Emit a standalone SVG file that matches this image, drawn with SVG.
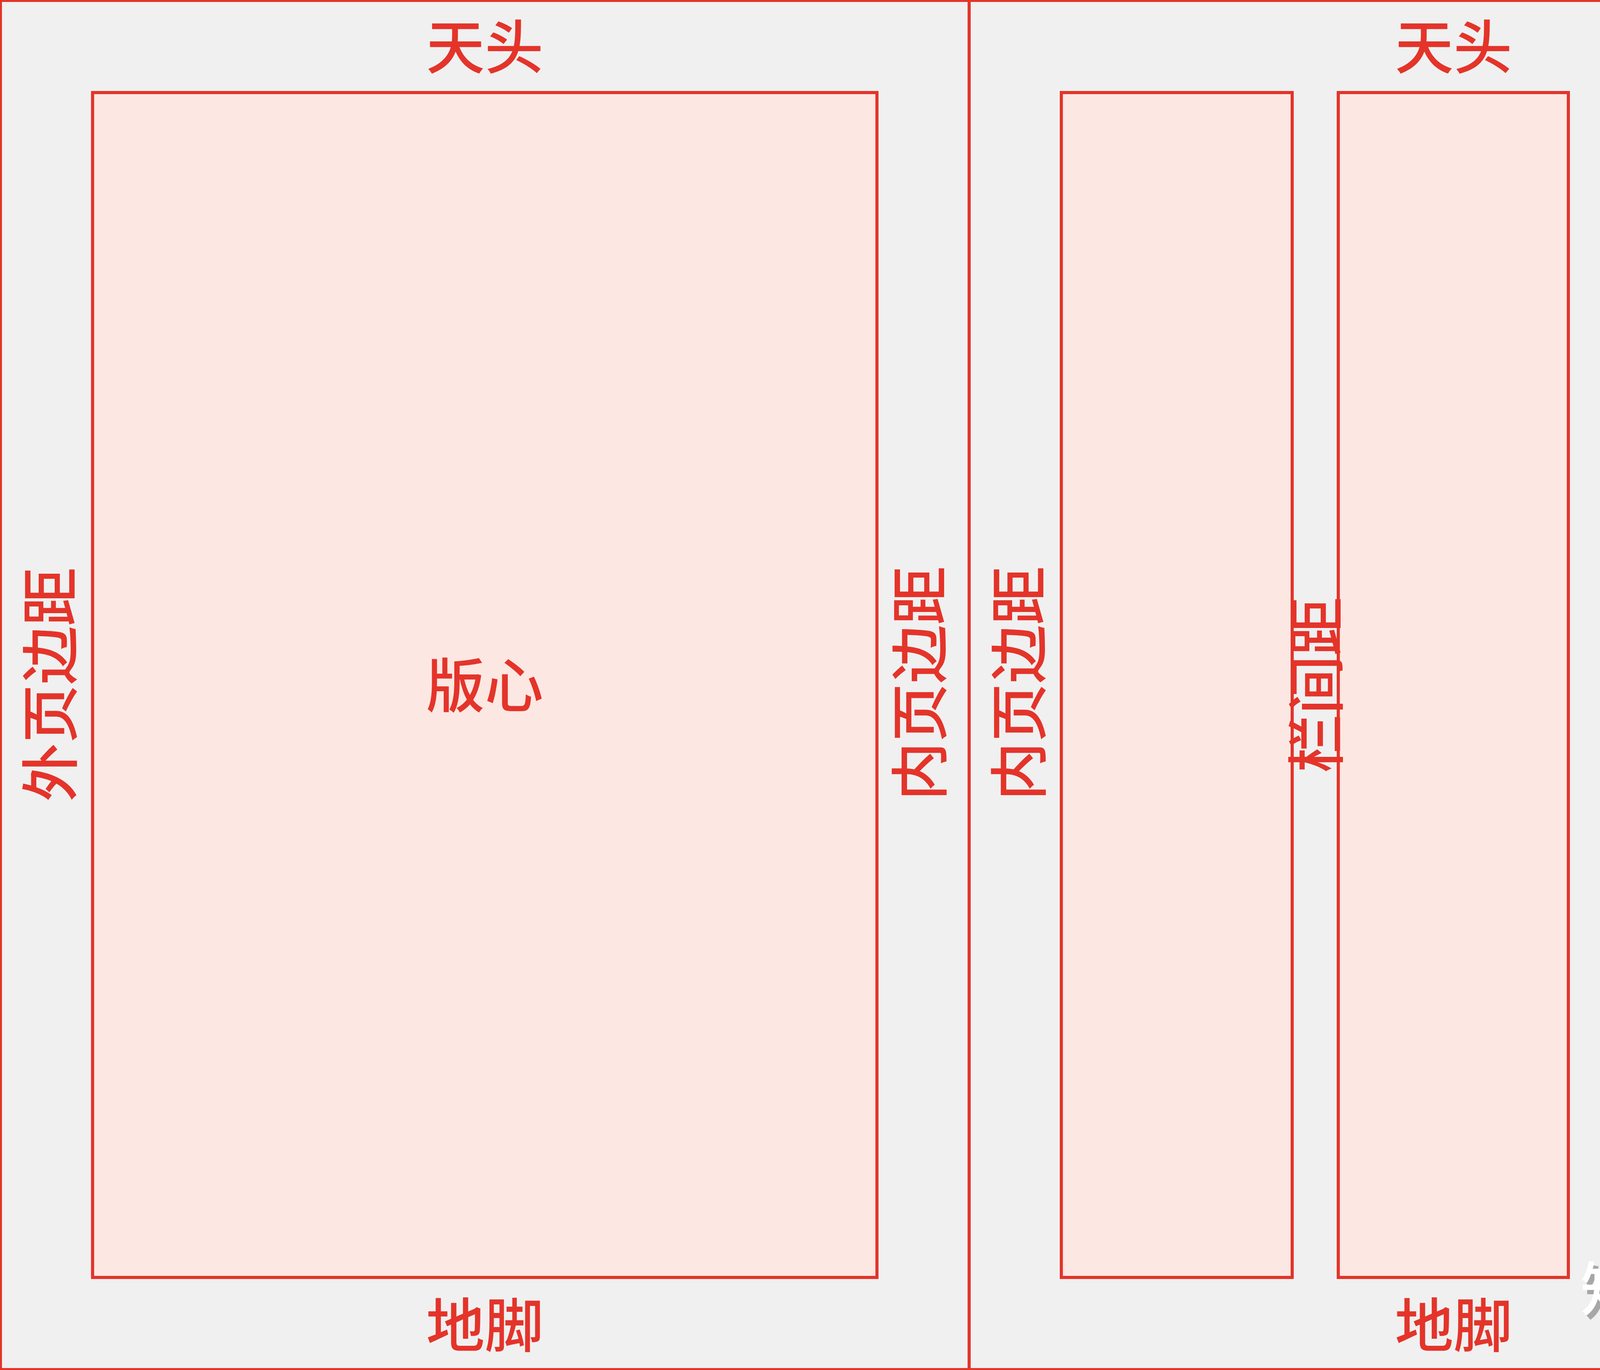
<svg xmlns="http://www.w3.org/2000/svg" width="4962" height="3508" viewBox="0 0 4962 3508">
<style>
.frame{fill:#F0F0F0;stroke:#E4342A;stroke-width:10}
.line{stroke:#E4342A;stroke-width:8;fill:none}
.box{fill:#FDE7E2;stroke:#E4342A;stroke-width:8}
.lbl{font-family:"Noto Sans CJK SC","Noto Sans CJK JP",sans-serif;font-size:150px;font-weight:500;fill:#E4342A;text-anchor:middle}
.wm{font-family:"Noto Sans CJK SC","Noto Sans CJK JP",sans-serif;font-size:150px;font-weight:500;text-anchor:start}
</style>
<g id="page">
<rect class="frame" x="0" y="0" width="4962" height="3508"/>
<line class="line" x1="2481" y1="0" x2="2481" y2="3508"/>
</g>
<g id="left-type-area">
<rect class="box" x="237" y="237" width="2008" height="3034"/>
<text class="lbl" x="1241" y="1811">版心</text>
</g>
<g id="right-col-1"><rect class="box" x="2717" y="237" width="591" height="3034"/></g>
<g id="right-col-2"><rect class="box" x="3426" y="237" width="589" height="3034"/></g>
<g id="right-col-3"><rect class="box" x="4134" y="237" width="591" height="3034"/></g>
<g id="labels">
<text class="lbl" x="1241" y="176">天头</text>
<text class="lbl" x="3721" y="176">天头</text>
<text class="lbl" x="1241" y="3449">地脚</text>
<text class="lbl" x="3721" y="3449">地脚</text>
<text class="lbl" transform="translate(184,1753) rotate(-90)">外页边距</text>
<text class="lbl" transform="translate(2410,1750) rotate(-90)">内页边距</text>
<text class="lbl" transform="translate(2664,1750) rotate(-90)">内页边距</text>
<text class="lbl" transform="translate(3425,1754) rotate(-90)">栏间距</text>
<text class="lbl" transform="translate(4889,1753) rotate(-90)">外页边距</text>
</g>
<g id="watermark">
<text class="wm" x="4057" y="3367" fill="#000" fill-opacity="0.3">知乎 @大薯</text>
<text class="wm" x="4046" y="3356" fill="#FFFFFF">知乎 @大薯</text>
</g>
</svg>
